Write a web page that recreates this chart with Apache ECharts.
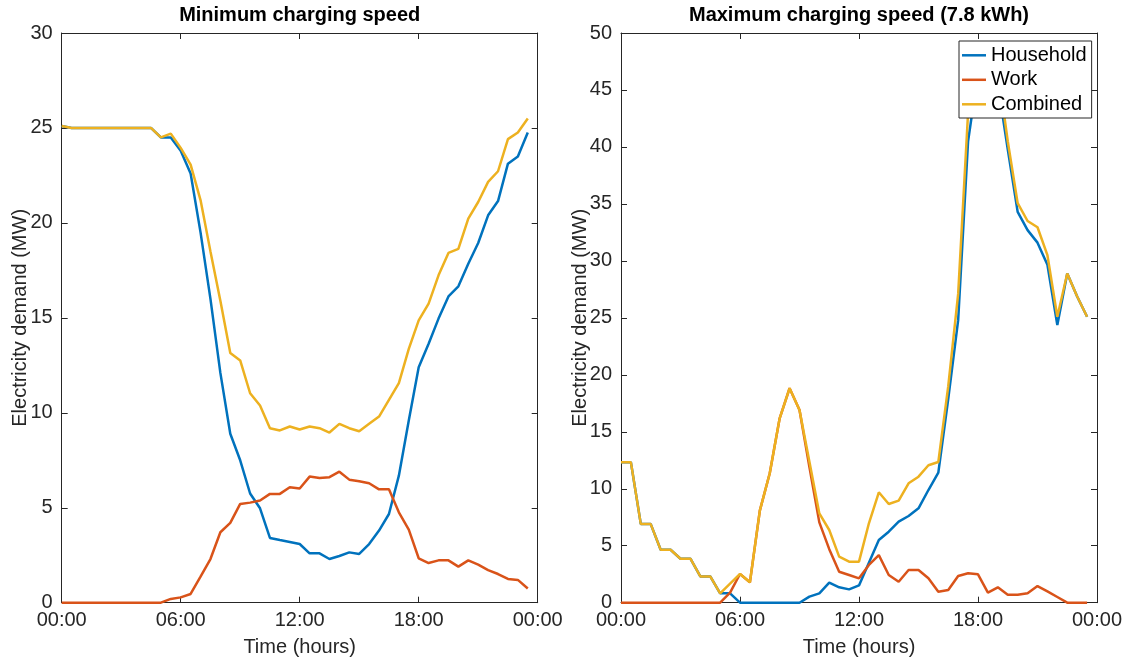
<!DOCTYPE html>
<html>
<head>
<meta charset="utf-8">
<title>EV charging demand</title>
<script src="https://cdn.jsdelivr.net/npm/echarts@6/dist/echarts.min.js"></script>
<style>
  html, body { margin: 0; padding: 0; background: #fff; }
  #chart { width: 1129px; height: 661px; }
</style>
</head>
<body>
<div id="chart"></div>
<script>
// Half-hourly time steps (hours after midnight)
const hours = [0, 0.5, 1, 1.5, 2, 2.5, 3, 3.5, 4, 4.5, 5, 5.5, 6, 6.5, 7, 7.5,
  8, 8.5, 9, 9.5, 10, 10.5, 11, 11.5, 12, 12.5, 13, 13.5, 14, 14.5, 15, 15.5,
  16, 16.5, 17, 17.5, 18, 18.5, 19, 19.5, 20, 20.5, 21, 21.5, 22, 22.5, 23, 23.5];

const timeTicks = ['00:00', '06:00', '12:00', '18:00', '00:00'];
const seriesNames = ['Household', 'Work', 'Combined'];

// Minimum charging speed (MW)
const minHousehold = [25.1, 25.0, 25.0, 25.0, 25.0, 25.0, 25.0, 25.0, 25.0, 25.0,
  24.5, 24.5, 23.8, 22.6, 19.5, 16.0, 12.1, 8.9, 7.5, 5.75,
  4.97, 3.41, 3.3, 3.2, 3.09, 2.6, 2.6, 2.3, 2.46, 2.65,
  2.57, 3.09, 3.8, 4.67, 6.69, 9.59, 12.4, 13.64, 14.96, 16.13,
  16.66, 17.85, 18.94, 20.4, 21.15, 23.12, 23.5, 24.76];
const minWork = [0, 0, 0, 0, 0, 0, 0, 0, 0, 0,
  0, 0.2, 0.28, 0.46, 1.37, 2.3, 3.71, 4.2, 5.2, 5.27,
  5.38, 5.73, 5.73, 6.08, 6.01, 6.64, 6.57, 6.61, 6.9, 6.48,
  6.4, 6.29, 5.97, 5.97, 4.76, 3.85, 2.34, 2.09, 2.23, 2.23,
  1.9, 2.23, 2.0, 1.72, 1.51, 1.25, 1.2, 0.75];
const minCombined = [25.1, 25.0, 25.0, 25.0, 25.0, 25.0, 25.0, 25.0, 25.0, 25.0,
  24.5, 24.7, 23.95, 23.07, 21.2, 18.5, 15.9, 13.15, 12.76, 11.03,
  10.38, 9.19, 9.07, 9.28, 9.12, 9.28, 9.19, 8.96, 9.42, 9.19,
  9.03, 9.42, 9.8, 10.68, 11.56, 13.37, 14.87, 15.75, 17.24, 18.42,
  18.63, 20.23, 21.1, 22.16, 22.72, 24.41, 24.76, 25.5];

// Maximum charging speed, 7.8 kWh (MW)
const maxHousehold = [12.32, 12.32, 6.9, 6.9, 4.65, 4.65, 3.86, 3.86, 2.31, 2.31,
  0.82, 0.82, 0, 0, 0, 0, 0, 0, 0, 0.53,
  0.82, 1.76, 1.35, 1.17, 1.52, 3.5, 5.5, 6.23, 7.11, 7.61,
  8.28, 9.89, 11.41, 17.9, 24.8, 40.5, 46.5, 47.5, 45.5, 39.8,
  34.3, 32.7, 31.6, 29.66, 24.37, 28.9, 26.87, 25.1];
const maxWork = [0, 0, 0, 0, 0, 0, 0, 0, 0, 0,
  0, 0.88, 2.52, 1.79, 8.08, 11.36, 16.18, 18.82, 16.92, 11.9,
  7.05, 4.7, 2.72, 2.43, 2.14, 3.31, 4.18, 2.43, 1.84, 2.87,
  2.87, 2.14, 0.97, 1.11, 2.34, 2.58, 2.49, 0.88, 1.35, 0.7,
  0.7, 0.82, 1.46, 1.0, 0.5, 0, 0, 0];
const maxCombined = [12.32, 12.32, 6.9, 6.9, 4.65, 4.65, 3.86, 3.86, 2.31, 2.31,
  0.82, 1.67, 2.52, 1.79, 8.08, 11.36, 16.18, 18.82, 16.92, 12.38,
  7.84, 6.38, 4.04, 3.6, 3.6, 6.97, 9.69, 8.66, 8.96, 10.48,
  11.06, 12.06, 12.35, 19.0, 27.1, 43.0, 48.5, 48.3, 46.9, 40.5,
  35.06, 33.5, 32.95, 30.5, 25.1, 28.9, 26.87, 25.1];

const colors = ['#0072BD', '#D95319', '#EDB120'];
const FONT = '"Liberation Sans", Arial, Helvetica, sans-serif';
const AX = '#262626';

const pairs = arr => hours.map((h, k) => [h, arr[k]]);

function xAxes(gridIndex) {
  const base = {
    gridIndex, type: 'value', min: 0, max: 24, interval: 6,
    splitLine: { show: false },
    axisLine: { show: true, onZero: false, lineStyle: { color: AX, width: 1 } },
    axisTick: { show: true, inside: true, length: 6, lineStyle: { color: AX } }
  };
  return [
    Object.assign({}, base, {
      position: 'bottom',
      name: 'Time (hours)', nameLocation: 'middle', nameGap: 35,
      nameTextStyle: { fontFamily: FONT, fontSize: 20, color: AX },
      axisLabel: {
        margin: 8, fontFamily: FONT, fontSize: 20, color: AX,
        formatter: v => timeTicks[Math.round(v / 6)]
      }
    }),
    Object.assign({}, base, { position: 'top', axisLabel: { show: false } })
  ];
}

function yAxes(gridIndex, max) {
  const base = {
    gridIndex, type: 'value', min: 0, max, interval: 5,
    splitLine: { show: false },
    axisLine: { show: true, onZero: false, lineStyle: { color: AX, width: 1 } },
    axisTick: { show: true, inside: true, length: 6, lineStyle: { color: AX } }
  };
  return [
    Object.assign({}, base, {
      position: 'left',
      name: 'Electricity demand (MW)', nameLocation: 'middle', nameGap: 31,
      nameRotate: 90, nameMoveOverlap: false,
      nameTextStyle: { fontFamily: FONT, fontSize: 20, color: AX },
      axisLabel: { margin: 9, fontFamily: FONT, fontSize: 20, color: AX }
    }),
    Object.assign({}, base, { position: 'right', axisLabel: { show: false } })
  ];
}

function lines(xIdx, yIdx, sets) {
  return sets.map((arr, k) => ({
    name: seriesNames[k], type: 'line',
    xAxisIndex: xIdx, yAxisIndex: yIdx,
    data: pairs(arr),
    symbol: 'none', showSymbol: false,
    lineStyle: { color: colors[k], width: 2.5 },
    itemStyle: { color: colors[k] },
    emphasis: { disabled: true },
    z: 2 + k
  }));
}

const chart = echarts.init(document.getElementById('chart'), null, { renderer: 'canvas' });
chart.setOption({
  animation: false,
  backgroundColor: '#fff',
  title: [
    { text: 'Minimum charging speed', left: 299.7, top: 5, textAlign: 'center', padding: 0,
      textStyle: { fontFamily: FONT, fontSize: 20, fontWeight: 'bold', color: '#000' } },
    { text: 'Maximum charging speed (7.8 kWh)', left: 859, top: 5, textAlign: 'center', padding: 0,
      textStyle: { fontFamily: FONT, fontSize: 20, fontWeight: 'bold', color: '#000' } }
  ],
  legend: {
    data: seriesNames,
    orient: 'vertical', left: 959, top: 41,
    icon: 'rect', itemWidth: 24, itemHeight: 2.5, itemGap: 4.5,
    padding: [4.3, 5, 3.7, 3],
    backgroundColor: '#fff', borderColor: AX, borderWidth: 1,
    textStyle: { fontFamily: FONT, fontSize: 20, lineHeight: 20, color: '#000' },
    selectedMode: false,
    z: 10
  },
  grid: [
    { left: 61.7, right: 591.3, top: 33, bottom: 58.3, containLabel: false, outerBoundsMode: 'none' },
    { left: 621, right: 32, top: 33, bottom: 58.3, containLabel: false, outerBoundsMode: 'none' }
  ],
  xAxis: [...xAxes(0), ...xAxes(1)],
  yAxis: [...yAxes(0, 30), ...yAxes(1, 50)],
  series: [
    ...lines(0, 0, [minHousehold, minWork, minCombined]),
    ...lines(2, 2, [maxHousehold, maxWork, maxCombined])
  ]
});
</script>
</body>
</html>
